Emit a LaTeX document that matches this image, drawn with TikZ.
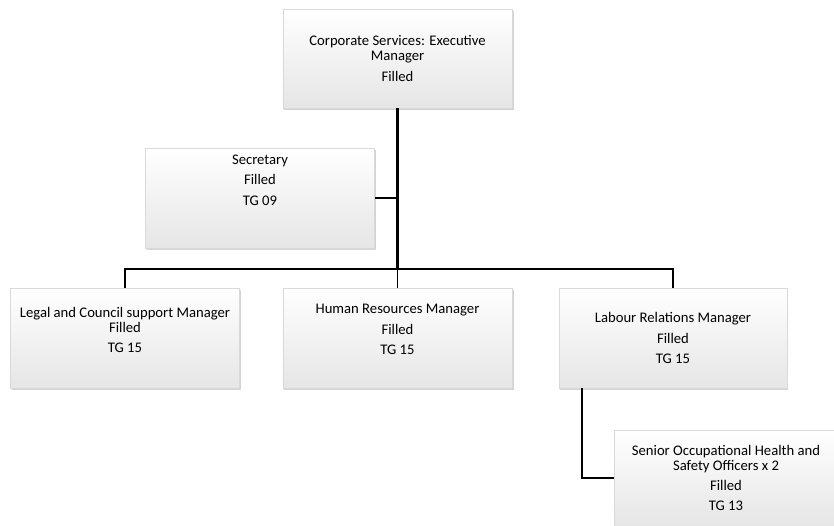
\documentclass[tikz,border=0pt]{standalone}
\usepackage{fontspec}
\setmainfont{Carlito}
\usepackage{tikz}
\usetikzlibrary{positioning,shadows,calc}

\begin{document}
\begin{tikzpicture}[x=0.75pt, y=-0.75pt,
    post/.style={draw=gray!30, line width=0.3pt,
      top color=white, middle color=gray!3, bottom color=gray!20,
      drop shadow={shadow xshift=1pt, shadow yshift=-1.3pt, opacity=0.35},
      minimum width=172pt, minimum height=75pt, inner sep=0pt,
      align=center, font=\fontsize{11}{11.2}\selectfont},
    link/.style={line width=1.1pt},
    trunk/.style={line width=1.7pt}]
  \clip (0,0) rectangle (834,525);
  % --- Top post ---
  \node[post, minimum height=74pt] (ceo) at (397.5,58.5)
    {Corporate Services: Executive\\ Manager\\[4pt] Filled};
  \node[post, text depth=27pt] (sec) at (260,198)
    {Secretary\\[4pt] Filled\\[4pt] TG 09};
  % --- Managers ---
  \node[post, text depth=12pt] (legal) at (125,338)
    {Legal and Council support Manager\\ Filled\\[4pt] TG 15};
  \node[post, text depth=13pt] (hr) at (397.5,338)
    {Human Resources Manager\\[4pt] Filled\\[4pt] TG 15};
  \node[post, minimum width=171pt] (labour) at (673,338)
    {Labour Relations Manager\\[4pt] Filled\\[4pt] TG 15};
  \node[post, minimum width=167pt, minimum height=72pt] (senior) at (726,478)
    {Senior Occupational Health and\\ Safety Officers x 2\\[4pt] Filled\\[4pt] TG 13};
  % --- Connectors ---
  \coordinate (bus) at (397.5,269);
  \draw[trunk] (ceo.south) -- (bus);
  \draw[link] (bus) -- (hr.north);
  \draw[link] (sec.east) -- (sec.east -| ceo.south);
  \draw[link] (legal.north) |- (bus) -| (labour.north);
  \draw[link] ([xshift=17.5pt]labour.south west) |- (senior.west);
\end{tikzpicture}
\end{document}
